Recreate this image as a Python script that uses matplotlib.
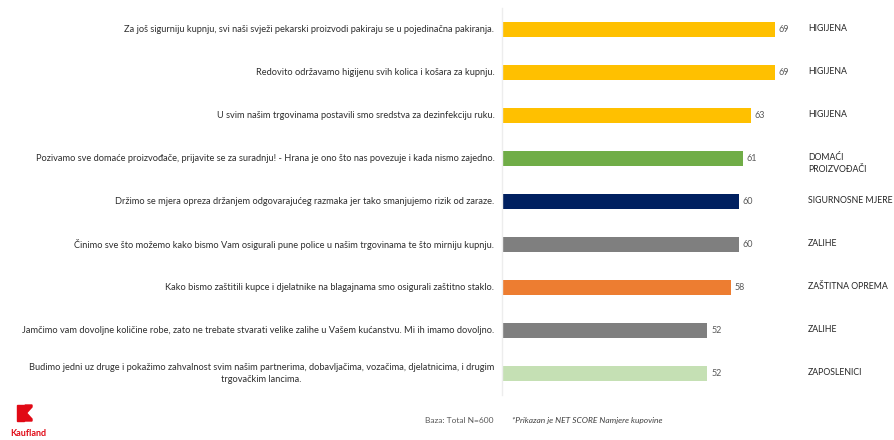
import matplotlib
matplotlib.use("Agg")
import matplotlib.pyplot as plt
from matplotlib.patches import Polygon
from matplotlib.transforms import blended_transform_factory

plt.rcParams['font.family'] = ['Lato', 'DejaVu Sans']

# izjave, vrijednosti (NET SCORE) i kategorije
izjave = [
    "Za još sigurniju kupnju, svi naši svježi pekarski proizvodi pakiraju se u pojedinačna pakiranja.",
    "Redovito održavamo higijenu svih kolica i košara za kupnju.",
    "U svim našim trgovinama postavili smo sredstva za dezinfekciju ruku.",
    "Pozivamo sve domaće proizvođače, prijavite se za suradnju! - Hrana je ono što nas povezuje i kada nismo zajedno.",
    "Držimo se mjera opreza držanjem odgovarajućeg razmaka jer tako smanjujemo rizik od zaraze.",
    "Činimo sve što možemo kako bismo Vam osigurali pune police u našim trgovinama te što mirniju kupnju.",
    "Kako bismo zaštitili kupce i djelatnike na blagajnama smo osigurali zaštitno staklo.",
    "Jamčimo vam dovoljne količine robe, zato ne trebate stvarati velike zalihe u Vašem kućanstvu. Mi ih imamo dovoljno.",
    "Budimo jedni uz druge i pokažimo zahvalnost svim našim partnerima, dobavljačima, vozačima, djelatnicima, i drugim\ntrgovačkim lancima.",
]
vrijednosti = [69, 69, 63, 61, 60, 60, 58, 52, 52]
kategorije = ["HIGIJENA", "HIGIJENA", "HIGIJENA", "DOMAĆI\nPROIZVOĐAČI", "SIGURNOSNE MJERE",
              "ZALIHE", "ZAŠTITNA OPREMA", "ZALIHE", "ZAPOSLENICI"]
boje = ["#FFC000", "#FFC000", "#FFC000", "#70AD47", "#002060",
        "#7F7F7F", "#ED7D31", "#7F7F7F", "#C5E0B4"]

W, H = 895, 440
fig = plt.figure(figsize=(W / 100, H / 100), dpi=100)
ax = fig.add_axes([502 / W, 1 - 395 / H, (W - 502) / W, 387 / H])

pos = list(range(len(vrijednosti)))
ax.barh(pos, vrijednosti, height=0.35, color=boje)
ax.set_ylim(8.5, -0.5)
ax.set_xlim(0, (W - 502) / 3.95)

for s in ["top", "right", "bottom"]:
    ax.spines[s].set_visible(False)
ax.spines["left"].set_color("#EDEDED")
ax.spines["left"].set_linewidth(1.0)
ax.set_xticks([])
ax.set_yticks([])

# vrijednosti na kraju stupaca
for y, v in zip(pos, vrijednosti):
    ax.text(v + 1.0, y, str(v), va="center", ha="left", fontsize=6.5, color="#595959")

# izjave lijevo od osi
for y, t in zip(pos, izjave):
    ax.annotate(t, xy=(0, y), xytext=(-5.5, 0), textcoords="offset points",
                ha="right", va="center", multialignment="center",
                fontsize=6.7, color="#2E2E2E", linespacing=1.5)

# kategorije desno
tr = blended_transform_factory(fig.transFigure, ax.transData)
for y, k in zip(pos, kategorije):
    if "\n" in k:
        ax.text(808 / W, y - 0.13, k, transform=tr, ha="left", va="top",
                fontsize=6.3, color="#262626", linespacing=1.4)
    else:
        ax.text(808 / W, y - 0.02, k, transform=tr, ha="left", va="center",
                fontsize=6.3, color="#262626")

# podnožje
fig.text(425 / W, 1 - 420 / H, "Baza: Total N=600", fontsize=6, color="#595959",
         ha="left", va="center")
fig.text(512 / W, 1 - 420 / H, "*Prikazan je NET SCORE Namjere kupovine", fontsize=6,
         color="#404040", style="italic", ha="left", va="center")

# logo
crvena = "#E10915"
def px(pts):
    return [(x / W, 1 - y / H) for x, y in pts]
fig.patches.append(Polygon(px([(17, 405), (24, 405), (24, 421), (17, 421)]),
                           closed=True, color=crvena, transform=fig.transFigure))
fig.patches.append(Polygon(px([(25, 405), (32, 405), (32, 407), (27, 412.5), (25, 412.5)]),
                           closed=True, color=crvena, transform=fig.transFigure))
fig.patches.append(Polygon(px([(25, 413.5), (27, 413.5), (32, 419), (32, 421), (25, 421)]),
                           closed=True, color=crvena, transform=fig.transFigure))
fig.text(28 / W, 1 - 433 / H, "Kaufland", fontsize=6.5, fontweight="bold", color=crvena,
         ha="center", va="center")

fig.savefig("out.png", dpi=100)
